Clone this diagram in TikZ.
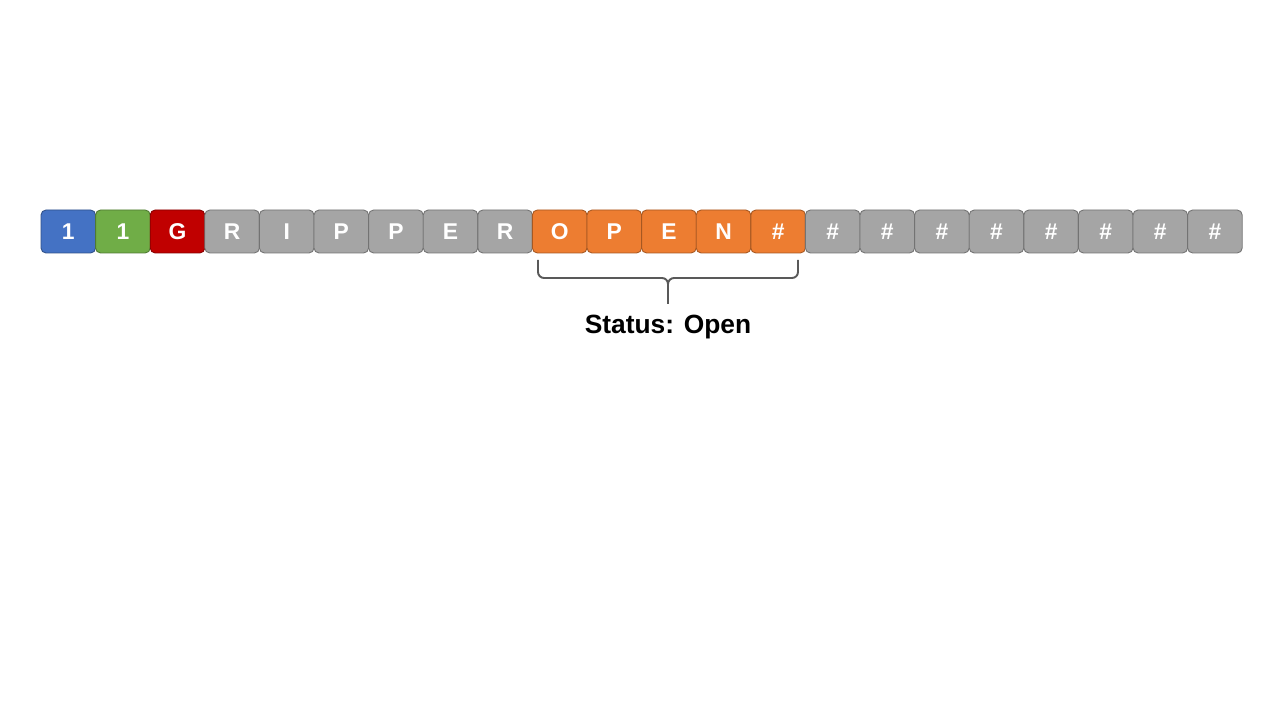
\documentclass[tikz,border=0pt]{standalone}
\usepackage{fontspec}
\setmainfont{Liberation Sans}
\definecolor{cblue}{HTML}{4472C4}
\definecolor{cgreen}{HTML}{70AD47}
\definecolor{cred}{HTML}{C00000}
\definecolor{cgray}{HTML}{A5A5A5}
\definecolor{corange}{HTML}{ED7D31}
\definecolor{cbrace}{HTML}{595959}
\begin{document}
\begin{tikzpicture}[x=0.02cm,y=0.02cm]
			\tikzset{cell/.style={draw=#1!70!black,fill=#1,line width=0.5pt,rounded corners=0.1cm,
				minimum width=1.092cm,minimum height=0.86cm,inner sep=0pt,
				text=white,font=\fontsize{13}{15}\selectfont\bfseries}}

			\useasboundingbox (0,0) rectangle (1280,720);

			\foreach \ch/\col [count=\i] in {1/cblue,1/cgreen,G/cred,R/cgray,I/cgray,P/cgray,P/cgray,E/cgray,R/cgray,
				O/corange,P/corange,E/corange,N/corange,\#/corange,
				\#/cgray,\#/cgray,\#/cgray,\#/cgray,\#/cgray,\#/cgray,\#/cgray,\#/cgray}
				\node[cell=\col] (c\i) at ({41+54.6*(\i-0.5)},488.5) {\ch};

			% brace under OPEN#
			\coordinate (bl) at (538,460);
			\coordinate (br) at (798,460);
			\coordinate (tip) at (668,416);
			\draw[cbrace,line width=1.1pt,rounded corners=0.12cm] (bl) -- (538,442) -- (668,442) -- (tip);
			\draw[cbrace,line width=1.1pt,rounded corners=0.12cm] (br) -- (798,442) -- (668,442) -- (tip);

			\node (status) at (668,393) {\fontsize{15}{18}\selectfont\bfseries Status: Open};
		\end{tikzpicture}
\end{document}
